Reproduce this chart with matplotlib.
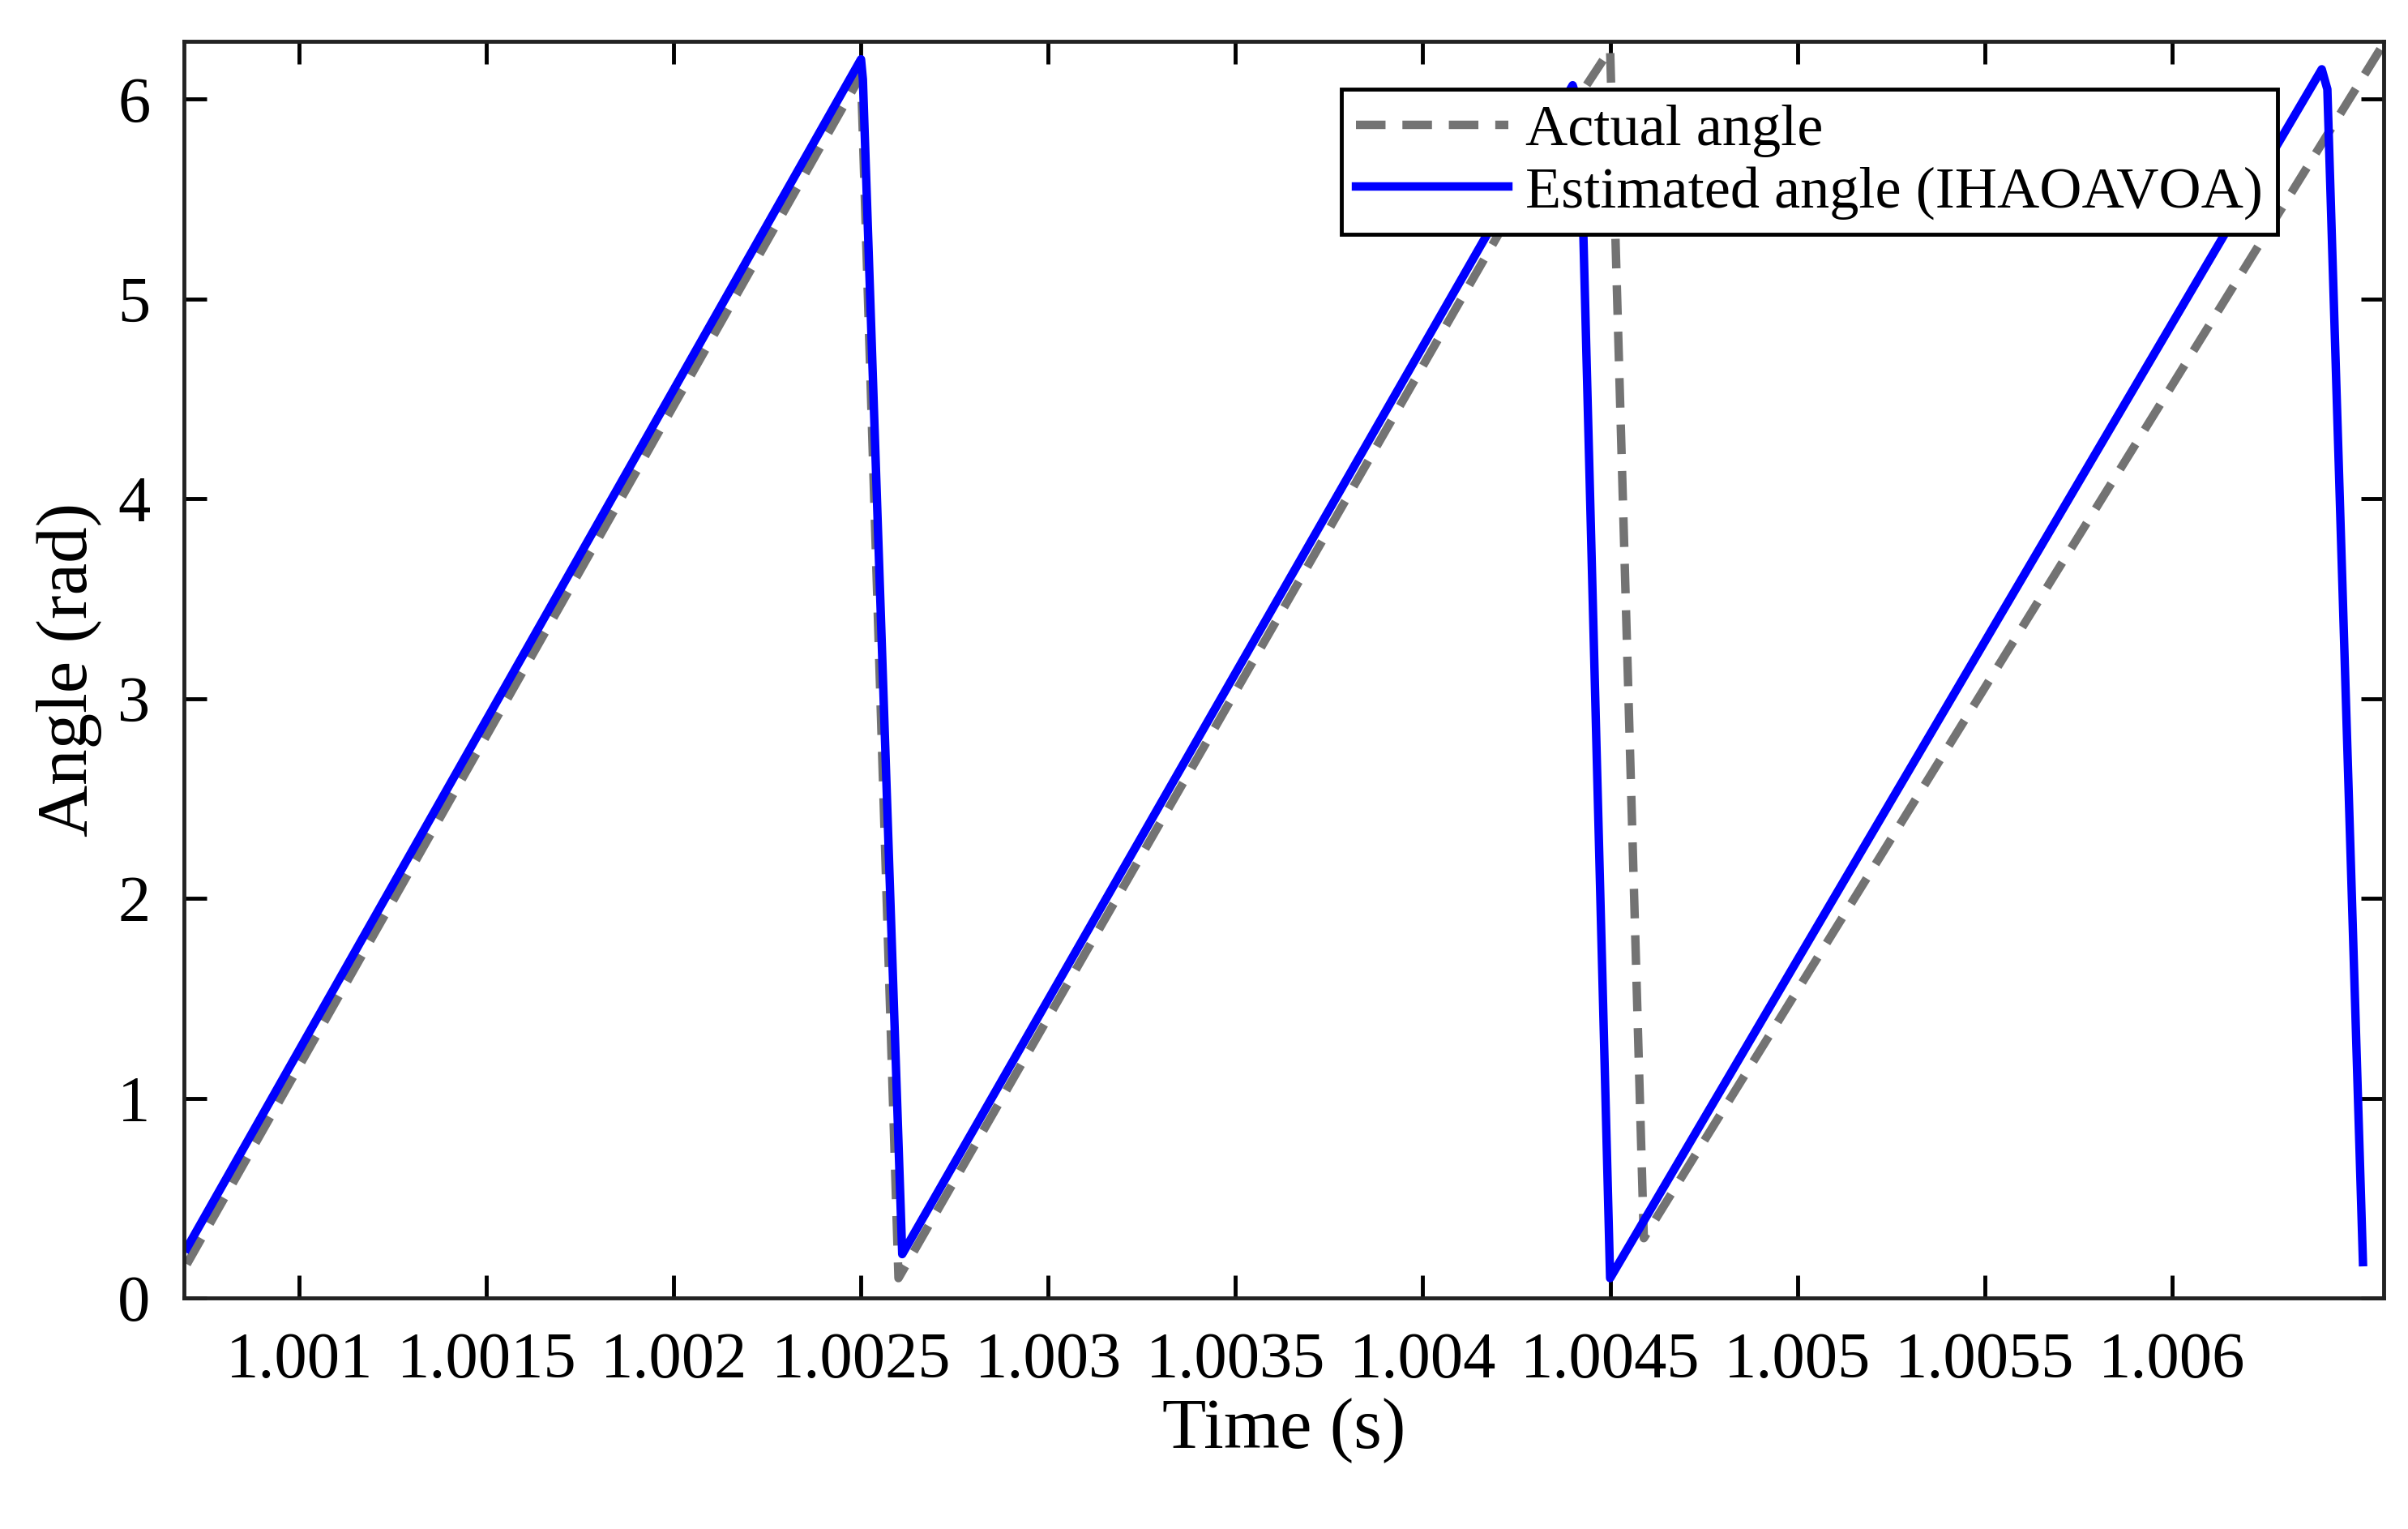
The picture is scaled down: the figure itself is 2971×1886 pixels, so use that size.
import matplotlib
matplotlib.use("Agg")
import matplotlib.pyplot as plt

actual_t = [1.00070, 1.00250, 1.00260, 1.00440, 1.00443, 1.00450, 1.00459, 1.006566]
actual_y = [0.17, 6.12, 0.10, 5.97, 6.05, 6.25, 0.30, 6.28]
est_t = [1.00070, 1.00250, 1.002505, 1.00261, 1.00440, 1.00442, 1.00450, 1.00640, 1.006415, 1.00651]
est_y = [0.25, 6.20, 6.10, 0.22, 6.07, 5.95, 0.10, 6.15, 6.05, 0.18]

xticks = [1.001, 1.0015, 1.002, 1.0025, 1.003, 1.0035, 1.004, 1.0045, 1.005, 1.0055, 1.006]
xlabels = ["1.001", "1.0015", "1.002", "1.0025", "1.003", "1.0035", "1.004", "1.0045", "1.005", "1.0055", "1.006"]
yticks = [0, 1, 2, 3, 4, 5, 6]

plt.rcParams["font.family"] = ["Liberation Serif", "DejaVu Serif"]

fig = plt.figure(figsize=(29.71, 18.86), dpi=100)
ax = fig.add_axes([0.0765, 0.151, 0.9135, 0.822])
ax.plot(actual_t, actual_y, "--", color="#737373", lw=7.5, dashes=(3.5, 2), label="Actual angle")
ax.plot(est_t, est_y, "-", color="#0000ff", lw=7.5, label="Estimated angle (IHAOAVOA)")
ax.set_xlim(1.000693, 1.006566)
ax.set_ylim(0, 6.29)
ax.set_xticks(xticks, xlabels)
ax.set_yticks(yticks)
ax.tick_params(direction="in", top=True, right=True, length=20, width=3.5, labelsize=58, pad=30)
for s in ax.spines.values():
    s.set_linewidth(3.5)
    s.set_color("#222222")
ax.set_xlabel("Time (s)", fontsize=64, labelpad=6)
ax.set_ylabel("Angle (rad)", fontsize=64, labelpad=14)
leg = ax.legend(loc="upper right", bbox_to_anchor=(0.965, 0.985), fontsize=52, fancybox=False,
                edgecolor="black", framealpha=1, handlelength=2.6, borderpad=0.25, labelspacing=0.15,
                handletextpad=0.3)
leg.get_frame().set_linewidth(3.5)
fig.savefig("out.png", dpi=100)
